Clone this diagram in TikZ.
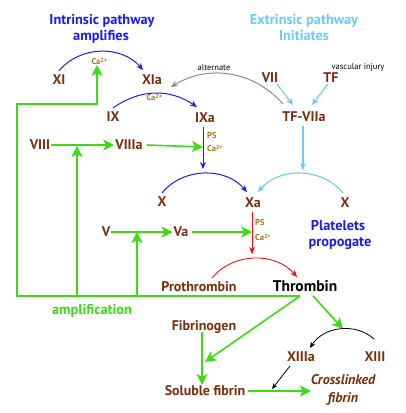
\documentclass[tikz,border=0pt]{standalone}
\usepackage{fontspec}
\setmainfont{PT Sans}
\usetikzlibrary{arrows.meta}
\definecolor{brn}{HTML}{7A2E0E}
\definecolor{och}{HTML}{A8731F}
\definecolor{blu}{HTML}{1C1CF0}
\definecolor{lbl}{HTML}{6CCBF5}
\definecolor{grn}{HTML}{3CDC14}
\definecolor{rd}{HTML}{F01010}
\definecolor{gry}{HTML}{8C8C8C}
\begin{document}
\begin{tikzpicture}[x=1pt,y=1pt,
 lab/.style={font=\fontsize{14}{16}\selectfont\bfseries, text=brn, inner sep=1pt, text height=9.8pt, text depth=0pt},
 ttl/.style={font=\fontsize{14.3}{16}\selectfont\bfseries, inner sep=1pt, text height=10pt, text depth=0pt},
 sml/.style={font=\fontsize{8.5}{10}\selectfont, inner sep=0pt, anchor=base},
 cof/.style={font=\fontsize{8.5}{9}\selectfont\bfseries, text=och, inner sep=0pt, anchor=base west},
 garr/.style={draw=grn, line width=1.6pt, -{Stealth[length=11pt,width=11pt,inset=3pt]}},
 barr/.style={draw=blu, line width=1pt, -{Stealth[length=7pt,width=6pt]}},
 lbarr/.style={draw=lbl, line width=1.1pt, -{Stealth[length=7pt,width=6pt]}},
 rarr/.style={draw=rd, line width=0.9pt, -{Stealth[length=7pt,width=6pt]}},
 gyarr/.style={draw=gry, line width=1pt, -{Stealth[length=7pt,width=6pt]}},
 karr/.style={draw=black, line width=0.8pt, -{Stealth[length=6pt,width=5pt]}}
]
\fill[white] (0,0) rectangle (406,413);
\useasboundingbox (0,0) rectangle (406,413);

% titles
\node[ttl, text=blu] (ti1) at (102,393) {Intrinsic pathway};
\node[ttl, text=blu] (ti2) at (101,377) {amplifies};
\node[ttl, text=lbl] (te1) at (304,393) {Extrinsic pathway};
\node[ttl, text=lbl] (te2) at (304,377) {Initiates};
\node[ttl, text=blu] (pl1) at (338,187.5) {Platelets};
\node[ttl, text=blu] (pl2) at (340,171) {propogate};
\node[ttl, text=grn] (amp) at (92,103) {amplification};

% factors
\node[lab] (XI) at (59,333) {XI};
\node[lab] (XIa) at (152,333) {XIa};
\node[lab] (IX) at (113,296) {IX};
\node[lab] (IXa) at (205,295) {IXa};
\node[lab] (VII) at (270,335) {VII};
\node[lab] (TF) at (331,335) {TF};
\node[lab] (TFVIIa) at (304,296) {TF-VIIa};
\node[lab] (VIII) at (40,268) {VIII};
\node[lab] (VIIIa) at (129,268) {VIIIa};
\node[lab] (X1) at (162,211) {X};
\node[lab] (Xa) at (253,210) {Xa};
\node[lab] (X2) at (345,210) {X};
\node[lab] (V) at (106,181) {V};
\node[lab] (Va) at (181,181) {Va};
\node[lab] (PT) at (199,126) {Prothrombin};
\node[lab, text=black, font=\fontsize{15.5}{18}\selectfont\bfseries, text height=11pt] (TH) at (305,127) {Thrombin};
\node[lab] (FG) at (204,87) {Fibrinogen};
\node[lab] (XIIIa) at (301,56) {XIIIa};
\node[lab] (XIII) at (375,56) {XIII};
\node[lab] (SF) at (205,22) {Soluble fibrin};
\node[lab, font=\fontsize{14}{16}\selectfont\bfseries\itshape] (CL1) at (343,33) {Crosslinked};
\node[lab, font=\fontsize{14}{16}\selectfont\bfseries\itshape] (CL2) at (343,15) {fibrin};

% small labels
\node[sml] (alt) at (214,342) {alternate};
\node[sml] (vi) at (358,343) {vascular injury};
\node[cof, anchor=base] (Ca1) at (99.5,348) {Ca\textsuperscript{2+}};
\node[cof, anchor=base] (Ca2) at (154.5,312) {Ca\textsuperscript{2+}};
\node[cof] (PS1) at (207,274) {PS};
\node[cof] (Ca3) at (207,261) {Ca\textsuperscript{2+}};
\node[cof] (PS2) at (255,187) {PS};
\node[cof] (Ca4) at (255,172) {Ca\textsuperscript{2+}};

% coordinates
\coordinate (p1) at (203,244);
\coordinate (p1b) at (203,266);
\coordinate (p2) at (303,243);
\coordinate (p3) at (252,159);
\coordinate (p3b) at (252,181);
\coordinate (hub) at (300,117);
\coordinate (c1) at (17,117);
\coordinate (c2) at (17,309);
\coordinate (c3) at (97,309);
\coordinate (c4) at (97,348);
\coordinate (b1) at (77,117);
\coordinate (b1t) at (77,267);
\coordinate (b2) at (137,117);
\coordinate (b2t) at (137,181);
\coordinate (d1) at (205,51);
\coordinate (p4) at (343,84);
\coordinate (p5) at (272,24);
\coordinate (cltip) at (311,22);

% green
\draw[garr] (hub) -- (c1) -- (c2) -- (c3) -- (c4);
\draw[garr] (b1) -- (b1t);
\draw[garr] (b2) -- (b2t);
\draw[garr] (hub) -- (d1);
\draw[garr] ([shift={(8,-10)}]TH.center) -- (p4);
\draw[garr] (VIII) -- (VIIIa);
\draw[garr] ([xshift=3]VIIIa.east) -- (p1b);
\draw[garr] (V) -- (Va);
\draw[garr] ([xshift=3]Va.east) -- (p3b);
\draw[garr] ([xshift=-2]FG.south) -- ([xshift=-3]SF.north);
\draw[garr] ([xshift=2]SF.east) -- (cltip);

% blue
\draw[barr] ([yshift=3]XI.north) to[bend left=50] ([shift={(-9,10)}]XIa.center);
\draw[barr] ([shift={(0,9)}]IX.center) to[bend left=35] ([shift={(-8,11)}]IXa.center);
\draw[barr] ([shift={(-2,-9)}]IXa.center) -- (p1);
\draw[barr] ([shift={(0,9)}]X1.center) to[bend left=50] ([shift={(-6,11)}]Xa.center);

% light blue
\draw[lbarr] ([shift={(7,-6)}]VII.center) -- ([shift={(-11,12)}]TFVIIa.center);
\draw[lbarr] ([shift={(-3,-6)}]TF.center) -- ([shift={(8,12)}]TFVIIa.center);
\draw[lbarr] ([shift={(-1,-9)}]TFVIIa.center) -- (p2);
\draw[lbarr] ([shift={(-2,10)}]X2.center) to[bend right=50] ([shift={(5,11)}]Xa.center);

% gray
\draw[gyarr] ([shift={(-21,13)}]TFVIIa.center) to[bend right=40] ([shift={(19,-7)}]XIa.center);

% red
\draw[rarr] ([shift={(-1,-9)}]Xa.center) -- (p3);
\draw[rarr] ([shift={(13,9)}]PT.center) to[bend left=50] ([shift={(-8,9)}]TH.center);

% black
\draw[karr] ([shift={(-1,18)}]XIII.center) to[bend right=50] ([shift={(9,9)}]XIIIa.center);
\draw[karr] ([shift={(-11,-9)}]XIIIa.center) -- (p5);
\end{tikzpicture}
\end{document}
